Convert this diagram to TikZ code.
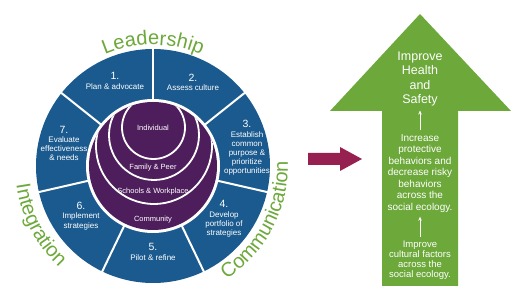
\documentclass[tikz,border=0pt]{standalone}
\usepackage{fontspec}
\setmainfont{Liberation Sans}
\usepackage{xcolor}
\usepackage{tikz}
\usetikzlibrary{arrows.meta,decorations.text}
\definecolor{wheelblue}{HTML}{1B5A8E}
\definecolor{corepurple}{HTML}{4E1D5C}
\definecolor{goalgreen}{HTML}{6CA83A}
\definecolor{linkmaroon}{HTML}{96204F}

\begin{document}
\begin{tikzpicture}[x=1pt, y=1pt,
  seclabel/.style={text=white, align=center, inner sep=0pt, font=\fontsize{8}{9.2}\selectfont},
  ringlabel/.style={text=white, inner sep=0pt, font=\fontsize{7.5}{9}\selectfont},
  goaltext/.style={text=white, align=center, inner sep=1pt},
  divider/.style={white, line width=2pt},
  ring/.style={white, line width=1.8pt},
  uparrow/.style={-{Stealth[length=4pt,width=3.5pt]}, white, line width=0.8pt, shorten >=3pt, shorten <=3pt},
  pillar/.style={decorate, decoration={text along path, text align=center, text color=goalgreen}}]
  \useasboundingbox (0,0) rectangle (512,286);
  \coordinate (c) at (153,120);

  % wheel of seven steps
  \begin{scope}[shift={(c)}]
    \fill[wheelblue] (0,0) circle[radius=117];
    \fill[white] (0,0) circle[radius=67];
    \fill[corepurple] (0,0) circle[radius=64];
    \draw[divider] (90:66) -- (90:118);
    \draw[divider] (38.57:66) -- (38.57:118);
    \draw[divider] (-12.86:66) -- (-12.86:118);
    \draw[divider] (-64.29:66) -- (-64.29:118);
    \draw[divider] (-115.71:66) -- (-115.71:118);
    \draw[divider] (-167.14:66) -- (-167.14:118);
    \draw[divider] (141.43:66) -- (141.43:118);

    % social ecology circles, cut by the core
    \begin{scope}
      \clip (0,0) circle[radius=64];
      \draw[ring] (1,20) circle[radius=58];
      \draw[ring] (1,31) circle[radius=45];
      \draw[ring] (0.5,38.5) circle[radius=31.5];
    \end{scope}
    \node[ringlabel] (individual) at (0,38) {Individual};
    \node[ringlabel] (family) at (0,-2) {Family \& Peer};
    \node[ringlabel] (schools) at (0,-26) {Schools \& Workplace};
    \node[ringlabel] (community) at (0,-54) {Community};

    \node[seclabel] (plan) at (-38,85) {{\fontsize{10.5}{12}\selectfont 1.}\\Plan \& advocate};
    \node[seclabel] (assess) at (40,84) {{\fontsize{10.5}{12}\selectfont 2.}\\Assess culture};
    \node[seclabel] (establish) at (94,18) {{\fontsize{10.5}{12}\selectfont 3.}\\Establish\\common\\purpose \&\\prioritize\\opportunities};
    \node[seclabel] (develop) at (71,-53) {{\fontsize{10.5}{12}\selectfont 4.}\\Develop\\portfolio of\\strategies};
    \node[seclabel] (pilot) at (0,-86) {{\fontsize{10.5}{12}\selectfont 5.}\\Pilot \& refine};
    \node[seclabel] (implement) at (-72,-50) {{\fontsize{10.5}{12}\selectfont 6.}\\Implement\\strategies};
    \node[seclabel] (evaluate) at (-89,22.5) {{\fontsize{10.5}{12}\selectfont 7.}\\Evaluate\\effectiveness\\\& needs};

    % words round the wheel
    \path[pillar, decoration={text={|\fontsize{20}{20}\selectfont|Leadership}}]
      (150:121) arc[start angle=150, end angle=30, radius=121];
    \path[pillar, decoration={text={|\fontsize{20}{20}\selectfont|Integration}}]
      (170:138) arc[start angle=170, end angle=245, radius=138];
    \path[pillar, decoration={text={|\fontsize{20}{20}\selectfont|Communication}}]
      (-75:135) arc[start angle=-75, end angle=20, radius=135];
  \end{scope}

  % link arrow
  \fill[linkmaroon] (308,133) -- (340,133) -- (340,139) -- (362,127) -- (340,115) -- (340,121) -- (308,121) -- cycle;

  % outcome arrow
  \fill[goalgreen] (420,272) -- (511,175) -- (458,175) -- (458,-1) -- (382,-1) -- (382,175) -- (330,175) -- cycle;
  \node[goaltext, font=\fontsize{12.5}{14.5}\selectfont] (goal) at (420,207) {Improve\\Health\\and\\Safety};
  \node[goaltext, font=\fontsize{10}{11.5}\selectfont] (behave) at (420,112.5) {Increase\\protective\\behaviors and\\decrease risky\\behaviors\\across the\\social ecology.};
  \node[goaltext, font=\fontsize{9.5}{10}\selectfont] (culture) at (420,26) {Improve\\cultural factors\\across the\\social ecology.};
  \draw[uparrow] (behave) -- (goal);
  \draw[uparrow] (culture) -- (behave);
\end{tikzpicture}
\end{document}
